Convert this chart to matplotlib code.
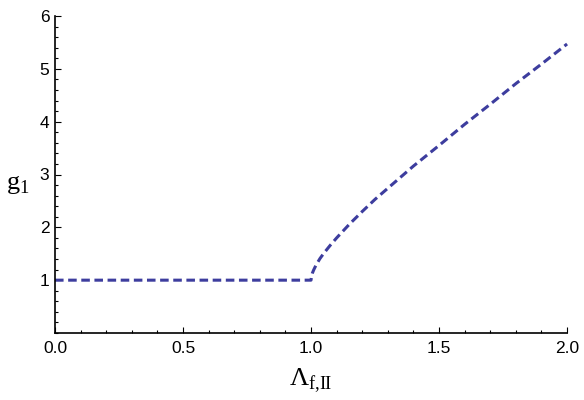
import matplotlib
matplotlib.use("Agg")
import matplotlib.pyplot as plt
from matplotlib.ticker import MultipleLocator, FormatStrFormatter

# Data
lam = [0.0, 0.25, 0.5, 0.75, 1.0, 1.002, 1.005, 1.01, 1.02, 1.035, 1.05, 1.075, 1.1,
       1.15, 1.2, 1.25, 1.3, 1.4, 1.5, 1.6, 1.7, 1.8, 1.9, 2.0]
g1 = [1.0, 1.0, 1.0, 1.0, 1.0, 1.08, 1.13, 1.19, 1.29, 1.41, 1.51, 1.66, 1.80,
      2.06, 2.30, 2.53, 2.74, 3.16, 3.55, 3.95, 4.33, 4.72, 5.09, 5.47]
xticks = [0.0, 0.5, 1.0, 1.5, 2.0]
yticks = [1, 2, 3, 4, 5, 6]

fig = plt.figure(figsize=(5.84, 4.0), dpi=100)
ax = fig.add_axes([0.0942, 0.1675, 0.8768, 0.7925])

ax.plot(lam, g1, color="#3d3d9e", lw=2.2, dashes=(2.8, 1.5), solid_capstyle="butt",
        dash_capstyle="butt", clip_on=False)

ax.set_xlim(0, 2)
ax.set_ylim(0, 6)
for s in ["top", "right"]:
    ax.spines[s].set_visible(False)
for s in ["left", "bottom"]:
    ax.spines[s].set_linewidth(1.2)

ax.set_xticks(xticks)
ax.set_yticks(yticks)
ax.xaxis.set_major_formatter(FormatStrFormatter("%.1f"))
ax.xaxis.set_minor_locator(MultipleLocator(0.1))
ax.yaxis.set_minor_locator(MultipleLocator(0.2))
ax.tick_params(which="both", direction="in", width=0.8, labelsize=12.5,
               labelfontfamily="Liberation Sans")
ax.tick_params(which="major", length=4.3)
ax.tick_params(which="minor", length=2.4)
ax.tick_params(axis="x", which="major", pad=6)
ax.tick_params(axis="y", which="major", pad=4)

ax.set_xlabel(r"Λ$_{\mathregular{f{,}II}}$", fontsize=19, family="Liberation Serif",
              va="center")
ax.xaxis.set_label_coords(0.5, -0.15)
ax.set_ylabel(r"g$_{\mathregular{1}}$", fontsize=19, family="Liberation Serif",
              rotation=0, va="center", ha="left")
ax.yaxis.set_label_coords(-0.096, 0.47)

fig.savefig("out.png", dpi=100)
